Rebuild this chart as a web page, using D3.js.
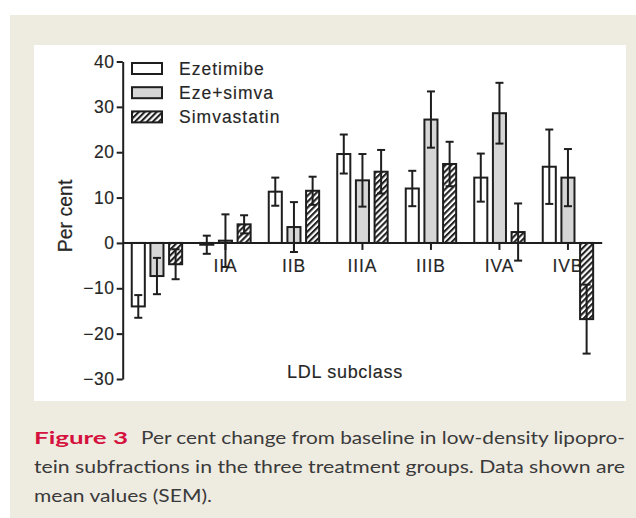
<!DOCTYPE html>
<html>
<head>
<meta charset="utf-8">
<script src="https://cdn.jsdelivr.net/npm/d3@7"></script>
<style>
  body { margin: 0; background: #fff; }
  svg { display: block; }
</style>
</head>
<body>
<svg width="636" height="518"></svg>
<script>
// LDL subclasses and the per cent change for each treatment (mean, SEM)
var groups = ["I", "IIA", "IIB", "IIIA", "IIIB", "IVA", "IVB"];
var groupLabels = ["", "IIA", "IIB", "IIIA", "IIIB", "IVA", "IVB"];
var series = ["Ezetimibe", "Eze+simva", "Simvastatin"];

var ezetimibe    = [-14.0, -0.4, 11.3, 19.6, 12.0, 14.4, 16.8];
var ezetimibeSem = [2.5, 2.0, 3.1, 4.3, 3.9, 5.3, 8.2];
var ezeSimva     = [-7.3, 0.5, 3.5, 13.8, 27.2, 28.6, 14.4];
var ezeSimvaSem  = [4.0, 5.8, 5.5, 5.8, 6.2, 6.7, 6.3];
var simvastatin  = [-4.7, 4.1, 11.5, 15.7, 17.4, 2.4, -16.8];
var simvaSem     = [3.3, 2.0, 3.1, 4.8, 4.9, 6.3, 7.6];

var yTicks = [-30, -20, -10, 0, 10, 20, 30, 40];

var captionLines = [
  "Per cent change from baseline in low-density lipopro-",
  "tein subfractions in the three treatment groups. Data shown are",
  "mean values (SEM)."
];

window.onload = function() {
  var svg = d3.select("svg");
  var ink = "#1e1e1e";
  var txt = "#262626";
  var font = "'Liberation Sans', Arial, sans-serif";

  // page frame
  svg.append("rect").attr("x", 10).attr("y", 15).attr("width", 626).attr("height", 503).attr("fill", "#eeebe1");
  svg.append("rect").attr("x", 34).attr("y", 45).attr("width", 592).attr("height", 356).attr("fill", "#fff");

  var defs = svg.append("defs");
  var pat = defs.append("pattern")
    .attr("id", "hatch")
    .attr("patternUnits", "userSpaceOnUse")
    .attr("width", 4.2)
    .attr("height", 4.2)
    .attr("patternTransform", "rotate(45)");
  pat.append("rect").attr("width", 4.2).attr("height", 4.2).attr("fill", "#fff");
  pat.append("line").attr("x1", 1).attr("y1", 0).attr("x2", 1).attr("y2", 4.2)
    .attr("stroke", "#222").attr("stroke-width", 2.2);

  var fills = { "Ezetimibe": "#fff", "Eze+simva": "#d6d6d6", "Simvastatin": "url(#hatch)" };

  var data = groups.map(function(g, i) {
    return {
      group: g,
      values: [
        { key: series[0], value: ezetimibe[i], sem: ezetimibeSem[i] },
        { key: series[1], value: ezeSimva[i], sem: ezeSimvaSem[i] },
        { key: series[2], value: simvastatin[i], sem: simvaSem[i] }
      ]
    };
  });

  var x0 = d3.scaleBand().domain(groups).range([122.7, 602.2]);
  var x1 = d3.scaleBand().domain(series).range([-28, 28]).paddingInner(0.3).paddingOuter(0.15);
  var y = d3.scaleLinear().domain([-30, 40]).range([379, 61.5]);

  var g = svg.append("g").attr("font-family", font).attr("fill", ink);

  // x axis (labels go under the bars)
  var xAxis = g.append("g")
    .attr("transform", "translate(0," + y(0) + ")")
    .call(d3.axisBottom(x0).tickSize(7).tickSizeOuter(0).tickPadding(10)
      .tickFormat(function(d, i) { return groupLabels[i]; }));
  xAxis.select(".domain").remove();
  xAxis.selectAll("line").attr("stroke", ink).attr("stroke-width", 2);
  xAxis.selectAll("text").attr("font-size", 17.5).attr("letter-spacing", 0.9)
    .attr("fill", txt).attr("stroke", txt).attr("stroke-width", 0.15);

  // bars
  var grp = g.append("g").selectAll("g")
    .data(data)
    .enter().append("g")
      .attr("transform", function(d) { return "translate(" + (x0(d.group) + x0.bandwidth() / 2) + ",0)"; });

  grp.selectAll("rect")
    .data(function(d) { return d.values; })
    .enter().append("rect")
      .attr("x", function(d) { return x1(d.key); })
      .attr("y", function(d) { return y(Math.max(0, d.value)); })
      .attr("width", x1.bandwidth())
      .attr("height", function(d) { return Math.abs(y(d.value) - y(0)); })
      .attr("fill", function(d) { return fills[d.key]; })
      .attr("stroke", ink)
      .attr("stroke-width", 2);

  // error bars
  var err = grp.selectAll(".err")
    .data(function(d) { return d.values; })
    .enter().append("g")
      .attr("class", "err")
      .attr("transform", function(d) { return "translate(" + (x1(d.key) + x1.bandwidth() / 2) + ",0)"; })
      .attr("stroke", ink)
      .attr("stroke-width", 2);
  err.append("line")
    .attr("y1", function(d) { return y(d.value + d.sem); })
    .attr("y2", function(d) { return y(d.value - d.sem); });
  err.append("line")
    .attr("x1", -4).attr("x2", 4)
    .attr("y1", function(d) { return y(d.value + d.sem); })
    .attr("y2", function(d) { return y(d.value + d.sem); });
  err.append("line")
    .attr("x1", -4).attr("x2", 4)
    .attr("y1", function(d) { return y(d.value - d.sem); })
    .attr("y2", function(d) { return y(d.value - d.sem); });

  // zero line
  g.append("line")
    .attr("x1", x0.range()[0]).attr("x2", x0.range()[1])
    .attr("y1", y(0)).attr("y2", y(0))
    .attr("stroke", ink).attr("stroke-width", 2);

  // y axis
  var yAxis = g.append("g")
    .attr("transform", "translate(" + x0.range()[0] + ",0)")
    .call(d3.axisLeft(y).tickValues(yTicks).tickSize(6).tickSizeOuter(0).tickPadding(2));
  yAxis.select(".domain").attr("stroke", ink).attr("stroke-width", 2);
  yAxis.selectAll("line").attr("stroke", ink).attr("stroke-width", 2);
  yAxis.selectAll("text").attr("font-size", 17.5).attr("letter-spacing", 0.6)
    .attr("fill", txt).attr("stroke", txt).attr("stroke-width", 0.15);

  g.append("text")
    .attr("transform", "translate(72,216) rotate(-90)")
    .attr("text-anchor", "middle")
    .attr("font-size", 19.5)
    .attr("fill", txt).attr("stroke", txt).attr("stroke-width", 0.2)
    .text("Per cent");

  g.append("text")
    .attr("x", 345).attr("y", 378)
    .attr("text-anchor", "middle")
    .attr("font-size", 18)
    .attr("letter-spacing", 0.7)
    .attr("fill", txt).attr("stroke", txt).attr("stroke-width", 0.15)
    .text("LDL subclass");

  // legend
  var legend = g.append("g").selectAll("g")
    .data(series)
    .enter().append("g")
      .attr("transform", function(d, i) { return "translate(132," + (63 + i * 24.2) + ")"; });
  legend.append("rect")
    .attr("width", 30).attr("height", 11)
    .attr("fill", function(d) { return fills[d]; })
    .attr("stroke", ink).attr("stroke-width", 2);
  legend.append("text")
    .attr("x", 47).attr("y", 12)
    .attr("font-size", 17.5)
    .attr("letter-spacing", 1)
    .attr("fill", txt).attr("stroke", txt).attr("stroke-width", 0.15)
    .text(function(d) { return d; });

  // caption
  var cap = svg.append("g").attr("font-family", "Lato, 'Open Sans', sans-serif");
  cap.append("text")
    .attr("x", 34).attr("y", 444)
    .attr("font-size", 17).attr("font-weight", "bold")
    .attr("fill", "#d4123d")
    .attr("textLength", 94).attr("lengthAdjust", "spacingAndGlyphs")
    .text("Figure 3");
  cap.append("text")
    .attr("x", 141).attr("y", 444)
    .attr("font-size", 17).attr("fill", "#3a3a3a")
    .attr("textLength", 484).attr("lengthAdjust", "spacingAndGlyphs")
    .text(captionLines[0]);
  cap.append("text")
    .attr("x", 34).attr("y", 473)
    .attr("font-size", 17).attr("fill", "#3a3a3a")
    .attr("textLength", 591).attr("lengthAdjust", "spacingAndGlyphs")
    .text(captionLines[1]);
  cap.append("text")
    .attr("x", 34).attr("y", 502)
    .attr("font-size", 17).attr("fill", "#3a3a3a")
    .attr("textLength", 178).attr("lengthAdjust", "spacingAndGlyphs")
    .text(captionLines[2]);
};
</script>
</body>
</html>
